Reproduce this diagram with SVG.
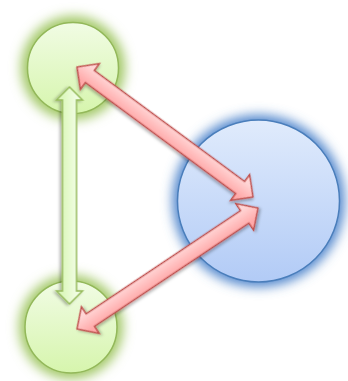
<svg xmlns="http://www.w3.org/2000/svg" width="348" height="381" viewBox="0 0 348 381">
<defs>
<linearGradient id="gGreen" x1="0" y1="0" x2="0" y2="1"><stop offset="0" stop-color="#f1fce4"/><stop offset="1" stop-color="#d6f5ad"/></linearGradient>
<linearGradient id="gBlue" x1="0" y1="0" x2="0" y2="1"><stop offset="0" stop-color="#e0ebfc"/><stop offset="1" stop-color="#b2cbf6"/></linearGradient>
<linearGradient id="gRed" gradientUnits="userSpaceOnUse" x1="0" y1="-8" x2="0" y2="8"><stop offset="0" stop-color="#ffd6d6"/><stop offset="1" stop-color="#ffa9a9"/></linearGradient>
<linearGradient id="gGreenArrow" gradientUnits="userSpaceOnUse" x1="0" y1="-7" x2="0" y2="7"><stop offset="0" stop-color="#f0fde2"/><stop offset="1" stop-color="#dcf7bc"/></linearGradient>
<filter id="glow" x="-50%" y="-50%" width="200%" height="200%"><feGaussianBlur stdDeviation="6"/></filter>
<filter id="shadow" x="-20%" y="-20%" width="140%" height="140%"><feDropShadow dx="1" dy="2" stdDeviation="1.5" flood-color="#000" flood-opacity="0.3"/></filter>
</defs>
<style>
.gn{fill:url(#gGreen);stroke:#93b85a;stroke-width:1.5}
.bn{fill:url(#gBlue);stroke:#4a7ebb;stroke-width:1.5}
.ggl{fill:#a2c866}
.bgl{fill:#4f85cc}
.ra{fill:url(#gRed);stroke:#c0504d;stroke-width:1.5;stroke-linejoin:miter;filter:url(#shadow)}
.ga{fill:url(#gGreenArrow);stroke:#96bb5c;stroke-width:1.5;filter:url(#shadow)}
</style>
<g id="node-top">
<circle class="ggl" cx="73" cy="68" r="52" filter="url(#glow)"/>
<circle class="gn" cx="73" cy="68" r="45.5"/>
</g>
<g id="node-bottom">
<circle class="ggl" cx="71" cy="327" r="52" filter="url(#glow)"/>
<circle class="gn" cx="71" cy="327" r="46"/>
</g>
<g id="node-right">
<circle class="bgl" cx="258.5" cy="201" r="86" filter="url(#glow)"/>
<circle class="bn" cx="258.5" cy="201" r="81"/>
</g>
<g id="connectors">
<path class="ga" transform="translate(69.5,87) rotate(90)" d="M0,0 L13,-13 L13,-7 L204,-7 L204,-13 L217,0 L204,13 L204,7 L13,7 L13,13 Z"/>
<path class="ra" transform="translate(77,67) rotate(36.45)" d="M0,0 L16,-16 L16,-7.5 L202.8,-7.5 L202.8,-16 L218.8,0 L202.8,16 L202.8,7.5 L16,7.5 L16,16 Z"/>
<path class="ra" transform="translate(77,329) rotate(-33.76)" d="M0,0 L16,-16 L16,-7.5 L201.7,-7.5 L201.7,-16 L217.7,0 L201.7,16 L201.7,7.5 L16,7.5 L16,16 Z"/>
</g>
</svg>
